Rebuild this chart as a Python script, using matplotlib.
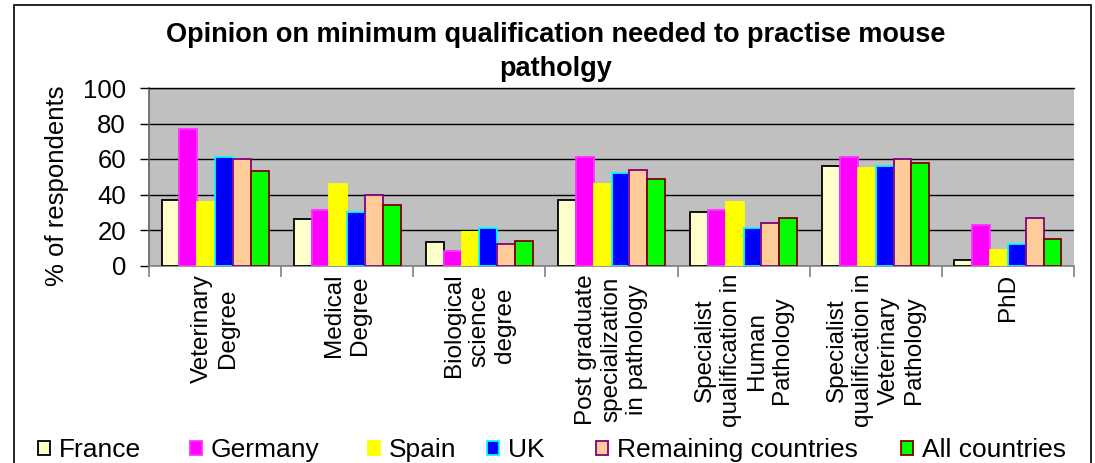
import matplotlib
matplotlib.use("Agg")
import matplotlib.pyplot as plt
import numpy as np
from matplotlib.patches import Patch, Rectangle

categories = ["Veterinary\nDegree", "Medical\nDegree", "Biological\nscience\ndegree",
              "Post graduate\nspecialization\nin pathology",
              "Specialist\nqualification in\nHuman\nPathology",
              "Specialist\nqualification in\nVeterinary\nPathology",
              "PhD"]
series_names = ["France", "Germany", "Spain", "UK", "Remaining countries", "All countries"]
france = [37, 26, 13, 37, 30, 56, 3]
germany = [77, 31, 8, 61, 31, 61, 23]
spain = [36, 46, 19, 46, 36, 55, 9]
uk = [61, 30, 21, 52, 21, 56, 12]
remaining = [60, 40, 12, 54, 24, 60, 27]
all_countries = [53, 34, 14, 49, 27, 58, 15]
yticks = [0, 20, 40, 60, 80, 100]
title = "Opinion on minimum qualification needed to practise mouse\npatholgy"
ylabel = "% of respondents"

faces = ["#FFFFCC", "#FF00FF", "#FFFF00", "#0000FF", "#FFCC99", "#00FF00"]
edges = ["#000000", "#FF33FF", "#FFFF00", "#00FFFF", "#800080", "#800000"]

plt.rcParams['font.family'] = ['Liberation Sans', 'DejaVu Sans']
W, H = 1095, 463
fig = plt.figure(figsize=(W / 100, H / 100), dpi=100)
fig.patch.set_facecolor('white')

# outer chart border
fig.add_artist(Rectangle((14 / W, -0.1), (1090.5 - 14) / W, 1.1 - 5 / H,
                         transform=fig.transFigure, fill=False,
                         edgecolor='black', linewidth=1.2, clip_on=False))

ax = fig.add_axes([149 / W, 1 - 265.5 / H, (1074 - 149) / W, (265.5 - 88) / H])
ax.set_facecolor('#C0C0C0')

data = [france, germany, spain, uk, remaining, all_countries]
x = np.arange(len(categories))
bw = 0.135
for k, (vals, fc, ec, name) in enumerate(zip(data, faces, edges, series_names)):
    ax.bar(x + (k - 2.5) * bw, vals, width=bw, color=fc, edgecolor=ec,
           linewidth=1.3, label=name, zorder=3)

ax.set_xlim(-0.5, len(categories) - 0.5)
ax.set_ylim(0, 100)
ax.set_yticks(yticks)
ax.yaxis.grid(True, color='black', linewidth=1.0)
ax.set_axisbelow(True)

ax.set_xticks(np.arange(-0.5, len(categories), 1))
ax.set_xticklabels([])
ax.set_xticks(x, minor=True)
ax.set_xticklabels(categories, minor=True, rotation=90, ha='center', va='top',
                   fontsize=17.5, multialignment='center', linespacing=1.22)
ax.tick_params(axis='x', which='major', length=8, color='#808080', width=1.2)
ax.tick_params(axis='x', which='minor', length=0, pad=6)
ax.tick_params(axis='y', length=6.5, width=1, color='black', labelsize=18.5, pad=10)

ax.spines['right'].set_visible(False)
ax.spines['top'].set_color('black')
ax.spines['top'].set_linewidth(1.0)
ax.spines['left'].set_color('#606060')
ax.spines['left'].set_linewidth(1.2)
ax.spines['bottom'].set_color('#808080')
ax.spines['bottom'].set_linewidth(1.2)

ax.set_ylabel(ylabel, fontsize=18.5, va='center')
ax.yaxis.set_label_coords(-0.099, 0.45)

fig.text(556 / W, 1 - 22 / H, title, ha='center', va='top', fontsize=19.5,
         fontweight='bold', linespacing=1.38)

# legend entries, one per series, placed along the bottom
leg_x = [38, 190, 368, 487, 596, 901]
for lx, fc, ec, name in zip(leg_x, faces, edges, series_names):
    fig.legend(handles=[Patch(facecolor=fc, edgecolor=ec, linewidth=1.3)],
               labels=[name], loc='center left',
               bbox_to_anchor=(lx / W, 1 - 450 / H), frameon=False, fontsize=19,
               handlelength=0.45, handleheight=0.45, handletextpad=0.35,
               borderpad=0, borderaxespad=0)

fig.savefig("out.png", dpi=100)
